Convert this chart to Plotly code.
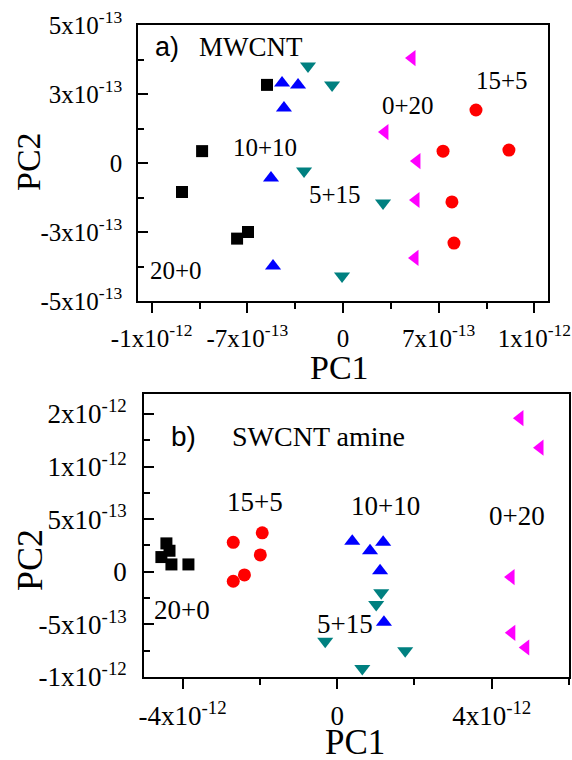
import plotly.graph_objects as go

W, H = 572, 760

# ---------------- Panel a (MWCNT) data ----------------
a_20_0_x = [-5.56e-13, -10.31e-13, -11.78e-13, -7.75e-13, -6.95e-13]
a_20_0_y = [2.83e-13, 0.43e-13, -1.05e-13, -2.74e-13, -2.50e-13]
a_10_10_x = [-4.46e-13, -3.29e-13, -4.32e-13, -5.27e-13, -5.12e-13]
a_10_10_y = [2.90e-13, 2.83e-13, 1.99e-13, -0.54e-13, -3.73e-13]
a_5_15_x = [-2.56e-13, -0.80e-13, -2.85e-13, 2.93e-13, -0.07e-13]
a_5_15_y = [3.51e-13, 2.83e-13, -0.29e-13, -1.45e-13, -4.09e-13]
a_0_20_x = [5.05e-13, 3.07e-13, 5.41e-13, 5.34e-13, 5.27e-13]
a_0_20_y = [3.80e-13, 1.12e-13, 0.07e-13, -1.34e-13, -3.44e-13]
a_15_5_x = [9.73e-13, 7.32e-13, 12.14e-13, 7.97e-13, 8.12e-13]
a_15_5_y = [1.92e-13, 0.43e-13, 0.47e-13, -1.41e-13, -2.90e-13]

# ---------------- Panel b (SWCNT amine) data ----------------
b_20_0_x = [-4.42e-12, -4.34e-12, -4.55e-12, -4.29e-12, -3.85e-12]
b_20_0_y = [0.27e-12, 0.20e-12, 0.14e-12, 0.07e-12, 0.07e-12]
b_15_5_x = [-2.69e-12, -1.94e-12, -1.99e-12, -2.69e-12, -2.40e-12]
b_15_5_y = [0.28e-12, 0.37e-12, 0.16e-12, -0.09e-12, -0.03e-12]
b_10_10_x = [0.39e-12, 0.85e-12, 1.19e-12, 1.11e-12, 1.21e-12]
b_10_10_y = [0.29e-12, 0.20e-12, 0.28e-12, 0.01e-12, -0.48e-12]
b_5_15_x = [1.14e-12, 1.01e-12, -0.31e-12, 1.76e-12, 0.65e-12]
b_5_15_y = [-0.20e-12, -0.31e-12, -0.66e-12, -0.75e-12, -0.92e-12]
b_0_20_x = [4.73e-12, 5.25e-12, 4.50e-12, 4.52e-12, 4.88e-12]
b_0_20_y = [1.46e-12, 1.18e-12, -0.05e-12, -0.58e-12, -0.72e-12]

# ---------------- Tick values / labels ----------------
a_xtickvals = [-1.4e-12, -7e-13, 0, 7e-13, 1.4e-12]
a_xticktext = ["-1x10<sup>-12</sup>", "-7x10<sup>-13</sup>", "0",
               "7x10<sup>-13</sup>", "1x10<sup>-12</sup>"]
a_xminor = [-1.05e-12, -3.5e-13, 3.5e-13, 1.05e-12]
a_ytickvals = [-5e-13, -2.5e-13, 0, 2.5e-13, 5e-13]
a_yticktext = ["-5x10<sup>-13</sup>", "-3x10<sup>-13</sup>", "0",
               "3x10<sup>-13</sup>", "5x10<sup>-13</sup>"]
a_yminor = [-3.75e-13, -1.25e-13, 1.25e-13, 3.75e-13]

b_xtickvals = [-4e-12, 0, 4e-12]
b_xticktext = ["-4x10<sup>-12</sup>", "0", "4x10<sup>-12</sup>"]
b_xminor = [-2e-12, 2e-12, 6e-12]
b_ytickvals = [-1e-12, -5e-13, 0, 5e-13, 1e-12, 1.5e-12]
b_yticktext = ["-1x10<sup>-12</sup>", "-5x10<sup>-13</sup>", "0",
               "5x10<sup>-13</sup>", "1x10<sup>-12</sup>", "2x10<sup>-12</sup>"]
b_yminor = [-7.5e-13, -2.5e-13, 2.5e-13, 7.5e-13, 1.25e-12]

SERIF = "Liberation Serif, Times New Roman, serif"
SANS = "Liberation Sans, Arial, sans-serif"

def px_x(px):
    return px / W

def px_y(py):
    return 1 - py / H

fig = go.Figure()

series_styles = [
    ("square", "#000000", 12),
    ("circle", "#ff0000", 13),
    ("triangle-up", "#0000ff", 14),
    ("triangle-down", "#008080", 14),
    ("triangle-left", "#ff00ff", 14),
]

a_series = [(a_20_0_x, a_20_0_y), (a_15_5_x, a_15_5_y), (a_10_10_x, a_10_10_y),
            (a_5_15_x, a_5_15_y), (a_0_20_x, a_0_20_y)]
b_series = [(b_20_0_x, b_20_0_y), (b_15_5_x, b_15_5_y), (b_10_10_x, b_10_10_y),
            (b_5_15_x, b_5_15_y), (b_0_20_x, b_0_20_y)]

for (xs, ys), (sym, col, sz) in zip(a_series, series_styles):
    fig.add_trace(go.Scatter(x=xs, y=ys, mode="markers", xaxis="x", yaxis="y",
                             marker=dict(symbol=sym, color=col, size=sz, line=dict(width=0)),
                             showlegend=False))
for (xs, ys), (sym, col, sz) in zip(b_series, series_styles):
    fig.add_trace(go.Scatter(x=xs, y=ys, mode="markers", xaxis="x2", yaxis="y2",
                             marker=dict(symbol=sym, color=col, size=sz, line=dict(width=0)),
                             showlegend=False))

def axis(domain, rng, tickvals, ticktext, minor_vals, ticks, fontsize, standoff, anchor):
    return dict(
        domain=domain, range=rng, anchor=anchor, automargin=False,
        showline=True, linecolor="black", linewidth=1.6, mirror=True,
        showgrid=False, zeroline=False,
        tickmode="array", tickvals=tickvals, ticktext=ticktext,
        ticks=ticks, ticklen=10, tickwidth=1.6, tickcolor="black",
        ticklabelstandoff=standoff,
        tickfont=dict(family=SERIF, size=fontsize, color="black"),
        minor=dict(tickmode="array", tickvals=minor_vals, ticks=ticks,
                   ticklen=6, tickwidth=1.6, tickcolor="black", showgrid=False),
    )

fig.update_layout(
    template="none",
    width=W, height=H,
    margin=dict(l=0, r=0, t=0, b=0),
    paper_bgcolor="white", plot_bgcolor="white",
    xaxis=axis([138 / W, 548 / W], [-1.5e-12, 1.5e-12], a_xtickvals, a_xticktext,
               a_xminor, "outside", 25, 4, "y"),
    yaxis=axis([px_y(301), px_y(25)], [-5e-13, 5e-13], a_ytickvals, a_yticktext,
               a_yminor, "inside", 25, 9, "x"),
    xaxis2=axis([144 / W, 569 / W], [-5e-12, 6e-12], b_xtickvals, b_xticktext,
                b_xminor, "outside", 27, 4, "y2"),
    yaxis2=axis([px_y(677), px_y(394)], [-1e-12, 1.69e-12], b_ytickvals, b_yticktext,
                b_yminor, "inside", 27, 10, "x2"),
)

annots = [
    # panel a
    ("a)", 167, 47, 27, SANS, 0),
    ("MWCNT", 251, 47, 27, SERIF, 0),
    ("15+5", 502, 80, 25, SERIF, 0),
    ("0+20", 408, 105, 25, SERIF, 0),
    ("10+10", 265, 147, 25, SERIF, 0),
    ("5+15", 335, 195, 25, SERIF, 0),
    ("20+0", 176, 270, 25, SERIF, 0),
    ("PC1", 339, 368, 34, SERIF, 0),
    ("PC2", 28, 162, 34, SERIF, -90),
    # panel b
    ("b)", 183, 437, 28, SANS, 0),
    ("SWCNT amine", 318, 437, 28, SERIF, 0),
    ("15+5", 255, 502, 27, SERIF, 0),
    ("10+10", 385, 506, 27, SERIF, 0),
    ("0+20", 517, 516, 27, SERIF, 0),
    ("20+0", 182, 610, 27, SERIF, 0),
    ("5+15", 345, 624, 27, SERIF, 0),
    ("PC1", 355, 742, 35, SERIF, 0),
    ("PC2", 30, 560, 36, SERIF, -90),
]
for text, x, y, size, fam, ang in annots:
    fig.add_annotation(text=text, x=px_x(x), y=px_y(y), xref="paper", yref="paper",
                       xanchor="center", yanchor="middle", showarrow=False,
                       textangle=ang, font=dict(family=fam, size=size, color="black"))

fig.write_html("out.html", config={"displayModeBar": False},
               post_script="document.body.style.margin='0';document.body.style.overflow='hidden';")
